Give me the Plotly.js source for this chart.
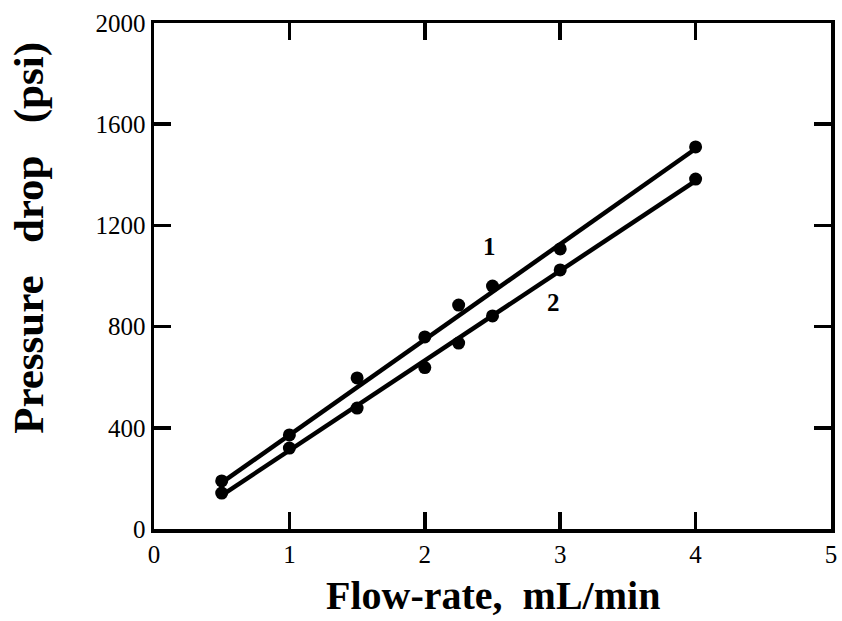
<!DOCTYPE html>
<html><head><meta charset="utf-8">
<script src="https://cdn.plot.ly/plotly-3.0.1.min.js"></script>
<style>body{margin:0;background:#fff}#c{width:842px;height:621px}</style>
</head><body><div id="c"></div>
<script>
const flowRate = [0.5, 1, 1.5, 2, 2.25, 2.5, 3, 4];
const series1 = [190, 372, 597, 759, 885, 960, 1107, 1510];
const series2 = [142, 320, 478, 638, 735, 842, 1024, 1383];
const fitX = [0.5, 4];
const fit1 = [183, 1503];
const fit2 = [133, 1376];
const xTicks = [0, 1, 2, 3, 4, 5];
const yTicks = [0, 400, 800, 1200, 1600, 2000];
const xTitle = 'Flow-rate,  mL/min';
const yTitle = 'Pressure   drop   (psi)';

const lineStyle = {color: '#000', width: 4.5};
const markerStyle = {color: '#000', size: 13};
const data = [
  {x: fitX, y: fit1, mode: 'lines', line: lineStyle, hoverinfo: 'skip'},
  {x: fitX, y: fit2, mode: 'lines', line: lineStyle, hoverinfo: 'skip'},
  {x: flowRate, y: series1, mode: 'markers', marker: markerStyle},
  {x: flowRate, y: series2, mode: 'markers', marker: markerStyle}
];
const fam = 'Liberation Serif, Times New Roman, serif';
const axisCommon = {
  showgrid: false, zeroline: false, showline: true, linewidth: 3.5, linecolor: '#000',
  mirror: 'ticks', ticks: 'inside', ticklen: 17, tickwidth: 3.5, tickcolor: '#000',
  tickfont: {family: fam, size: 25, color: '#000'}
};
const layout = {
  width: 842, height: 621, showlegend: false,
  paper_bgcolor: '#fff', plot_bgcolor: '#fff',
  margin: {l: 154, r: 11, t: 23, b: 92},
  font: {family: fam, color: '#000'},
  xaxis: Object.assign({range: [0, 5], tickvals: xTicks, ticktext: xTicks.map(String)}, axisCommon),
  yaxis: Object.assign({range: [0, 2000], tickvals: yTicks, ticktext: yTicks.map(String)}, axisCommon),
  annotations: [
    {x: 2.48, y: 1115, text: '<b>1</b>', showarrow: false, font: {family: fam, size: 25, color: '#000'}},
    {x: 2.95, y: 897, text: '<b>2</b>', showarrow: false, font: {family: fam, size: 25, color: '#000'}},
    {xref: 'paper', yref: 'paper', x: 0.5, y: -0.132, xanchor: 'center', yanchor: 'middle',
     text: '<b>' + xTitle + '</b>', showarrow: false, font: {family: fam, size: 40, color: '#000'}},
    {xref: 'paper', yref: 'paper', x: -0.185, y: 0.575, xanchor: 'center', yanchor: 'middle', textangle: -90,
     text: '<b>' + yTitle + '</b>', showarrow: false, font: {family: fam, size: 43, color: '#000'}}
  ]
};
Plotly.newPlot('c', data, layout, {displayModeBar: false, staticPlot: true});
</script></body></html>
